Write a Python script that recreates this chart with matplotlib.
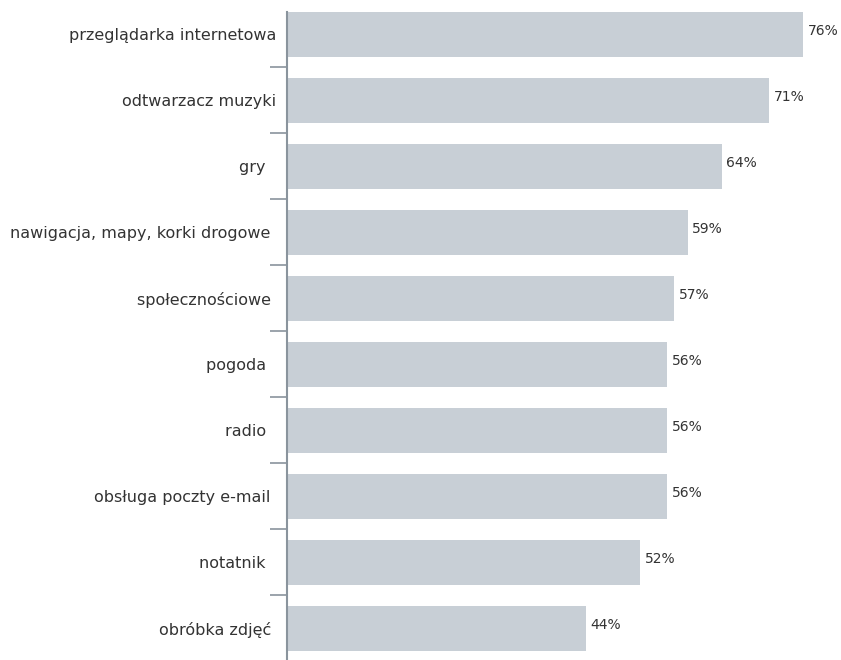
"""
Horizontal bar chart: share of users of each kind of mobile application.
"""

import matplotlib
matplotlib.use('Agg')
from matplotlib import pyplot
import numpy

categories = ['przeglądarka internetowa', 'odtwarzacz muzyki', 'gry  ',
              'nawigacja, mapy, korki drogowe ', 'społecznościowe ',
              'pogoda  ', 'radio  ', 'obsługa poczty e-mail ', 'notatnik  ',
              'obróbka zdjęć ']
values = [76, 71, 64, 59, 57, 56, 56, 56, 52, 44]
value_labels = ['76%', '71%', '64%', '59%', '57%', '56%', '56%', '56%',
                '52%', '44%']

bar_color = '#c8cfd6'
axis_color = '#8a949d'
text_color = '#333333'

pyplot.rc('font', family=['DejaVu Sans'], size=11.5)
fig = pyplot.figure(figsize=(8.41, 6.60), dpi=100)
ax = fig.add_axes([287 / 841, 0.0, 1 - 287 / 841, 648 / 660])

y = numpy.arange(len(categories))
ax.barh(y, values, height=0.68, color=bar_color, zorder=2)
for yi, v, lab in zip(y, values, value_labels):
    ax.text(v + 0.7, yi - 0.05, lab, va='center', ha='left', fontsize=10,
            color=text_color)

ax.set_xlim(0, 81.6)
ax.set_ylim(9.48, -0.34)
ax.set_yticks(y)
ax.set_yticklabels(categories, color=text_color)
for lab in ax.get_yticklabels():
    lab.set_verticalalignment('center_baseline')
ax.set_yticks(y[:-1] + 0.5, minor=True)
ax.tick_params(axis='y', which='major', length=0, pad=8)
ax.tick_params(axis='y', which='minor', length=12, width=1.2,
               color=axis_color, direction='out')
ax.set_xticks([])
for side in ['top', 'right', 'bottom']:
    ax.spines[side].set_visible(False)
ax.spines['left'].set_color(axis_color)
ax.spines['left'].set_linewidth(1.5)

fig.savefig('out.png', dpi=100)
